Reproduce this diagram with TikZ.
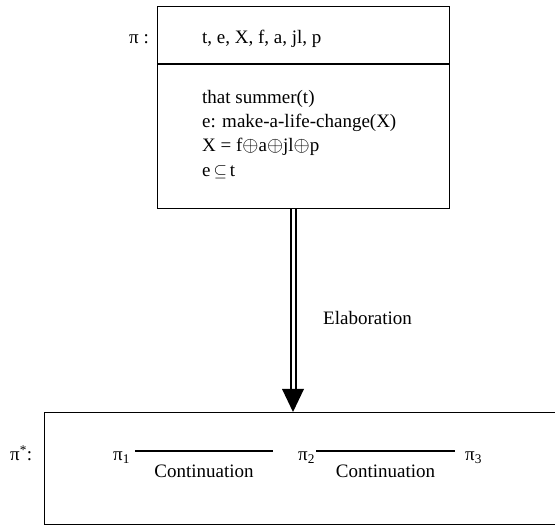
\documentclass[tikz,border=0pt]{standalone}
\usepackage{fontspec}
\setmainfont{Liberation Serif}
\newcommand{\opl}{{\fontsize{21}{25}\selectfont$\oplus$}}
\usetikzlibrary{calc}
\begin{document}
\begin{tikzpicture}[x=1pt,y=-1pt,
  every node/.style={font=\fontsize{19}{23}\selectfont},
  txt/.style={inner sep=0pt, anchor=base west},
  boxframe/.style={draw, line width=1.3pt, inner sep=0pt, anchor=north west},
  conn/.style={line width=1.1pt},
  dbl/.style={double, double distance=3pt, line width=2pt}]
\useasboundingbox (0,0) rectangle (555,526);
% top box
\node[boxframe, minimum width=292pt, minimum height=202pt] (pi) at (157,6) {};
\coordinate (dv) at (0,64);
\draw[line width=1.3pt] (pi.west |- dv) -- (pi.east |- dv);
\node[txt] (pilab) at (129,44) {π :};
\node[txt] (univ) at (202,44) {t, e, X, f, a, jl, p};
\node[txt] (c1) at (202,104) {that summer(t)};
\node[txt] (c2) at (202,128) {e: make-a-life-change(X)};
\node[txt] (c3) at (202,152) {X = f\opl a\opl jl\opl p};
\node[txt] (c4) at (202,177) {e$\,\subseteq\,$t};
% bottom box
\node[boxframe, minimum width=530pt, minimum height=112pt] (pis) at (44,412) {};
\node[txt] (pislab) at (10,461) {π\textsuperscript{*}:};
\node[txt] (p1) at (113,461) {π\textsubscript{1}};
\node[txt] (p2) at (298,461) {π\textsubscript{2}};
\node[txt] (p3) at (465,461) {π\textsubscript{3}};
\draw[conn] ([shift={(5,-10)}]p1.base east) -- node[midway, anchor=base, yshift=-27pt, inner sep=0pt] (k1) {Continuation} ([shift={(-25,-10)}]p2.base west);
\draw[conn] ([shift={(1,-10)}]p2.base east) -- node[midway, anchor=base, yshift=-27pt, inner sep=0pt] (k2) {Continuation} ([shift={(-10,-10)}]p3.base west);
% elaboration arrow
\coordinate (ax) at (293,0);
\coordinate (hb) at (0,389);
\draw[dbl] (pi.south -| ax) -- (hb -| ax);
\fill ($(hb -| ax)+(-11,0)$) -- ($(hb -| ax)+(11,0)$) -- (pis.north -| ax) -- cycle;
\node[txt] (elab) at (323,325) {Elaboration};
\end{tikzpicture}
\end{document}
